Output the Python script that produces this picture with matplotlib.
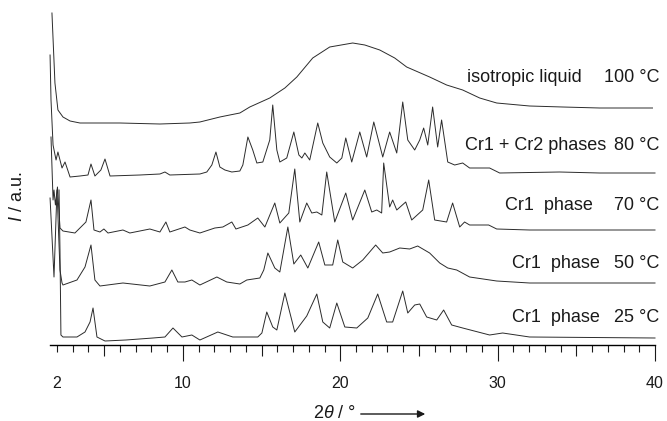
import matplotlib
matplotlib.use("Agg")
import matplotlib.pyplot as plt
from matplotlib.ticker import FixedLocator

plt.rcParams['font.family'] = ['Liberation Sans', 'DejaVu Sans']
plt.rcParams['mathtext.fontset'] = 'custom'
plt.rcParams['mathtext.rm'] = 'Liberation Sans'
plt.rcParams['mathtext.it'] = 'Liberation Sans:italic'

# 2theta (deg) and intensity (a.u., relative to each trace's own baseline)
tt_100 = [1.68, 1.87, 2.06, 2.38, 2.83, 3.46, 6.00, 8.54, 10.44, 11.08, 12.35, 12.98, 13.62, 14.25,
          15.52, 16.48, 17.24, 18.25, 19.33, 20.79, 21.56, 22.51, 23.46, 24.22, 25.68, 26.76, 27.78,
          28.86, 29.94, 32.03, 34.13, 36.48, 39.84]
i_100 = [110, 40, 13, 6, 2, 0, 0, -1, 0, 1, 6, 8, 10, 16,
         25, 35, 46, 65, 76, 80, 78, 73, 65, 56, 46, 38, 33,
         25, 20, 17, 16, 15, 15]

tt_80 = [1.56, 1.62, 1.75, 1.94, 2.06, 2.32, 2.51, 2.83, 3.46, 3.97, 4.16, 4.41, 4.79, 5.05, 5.37,
         7.27, 8.54, 8.86, 9.17, 11.08, 11.52, 11.84, 12.10, 12.35, 12.67, 13.11, 13.62, 13.81, 14.13,
         14.44, 14.70, 15.08, 15.52, 15.71, 15.97, 16.16, 16.60, 17.05, 17.37, 17.56, 17.75, 18.06,
         18.57, 18.89, 19.33, 19.78, 20.10, 20.35, 20.73, 21.24, 21.68, 22.13, 22.70, 23.14, 23.59,
         23.97, 24.29, 24.73, 25.05, 25.30, 25.56, 25.87, 26.19, 26.44, 26.83, 27.27, 27.78, 28.22,
         29.49, 30.13, 33.94, 36.48, 40.0]
i_80 = [121, 76, 31, 16, 24, 8, 14, -1, 0, 1, 12, 0, 6, 17, 0,
        1, 2, 4, 1, 2, 4, 11, 24, 9, 6, 4, 5, 11, 39,
        26, 13, 14, 36, 71, 26, 14, 18, 44, 21, 18, 23, 16,
        53, 33, 19, 13, 18, 38, 14, 44, 19, 54, 19, 44, 23,
        74, 36, 26, 36, 48, 31, 69, 29, 56, 14, 11, 13, 8,
        8, 3, 4, 3, 3]

tt_70 = [1.62, 1.75, 1.81, 1.90, 2.03, 2.19, 2.38, 3.14, 3.84, 4.16, 4.35, 4.73, 4.98, 5.24, 6.19,
         6.63, 7.90, 8.54, 8.92, 9.17, 10.13, 10.44, 11.08, 12.03, 12.54, 13.11, 13.37, 14.13, 14.76,
         15.21, 15.84, 16.16, 16.73, 17.11, 17.43, 17.87, 18.19, 18.51, 18.83, 19.14, 19.65, 20.35,
         20.79, 21.56, 22.00, 22.32, 22.63, 22.76, 23.14, 23.33, 23.59, 24.16, 24.54, 25.24, 25.62,
         26.00, 26.76, 27.14, 27.59, 27.90, 28.22, 28.86, 29.43, 29.94, 32.03, 36.48, 40.0]
i_70 = [96, 33, 43, 28, 46, 5, 2, 0, 11, 33, 3, 1, 4, 0, 3,
        0, 4, 1, 11, 1, 6, 3, 0, 5, 6, 11, 4, 8, 15,
        6, 30, 10, 20, 64, 11, 30, 20, 21, 18, 61, 11, 40,
        13, 43, 21, 23, 20, 70, 26, 33, 23, 31, 13, 23, 53,
        13, 11, 30, 6, 11, 8, 8, 8, 4, 3, 3, 3]

tt_50 = [1.56, 1.81, 2.00, 2.19, 2.32, 2.38, 3.27, 3.78, 4.16, 4.41, 4.73, 6.19, 7.90, 8.86, 9.30,
         9.68, 10.13, 10.57, 11.08, 12.16, 12.79, 13.62, 14.06, 14.89, 15.14, 15.40, 15.84, 16.16,
         16.67, 17.05, 17.49, 17.94, 18.63, 19.02, 19.52, 19.84, 20.16, 20.79, 21.43, 22.25, 22.70,
         23.14, 23.78, 24.41, 24.92, 25.68, 26.32, 26.83, 27.40, 28.22, 29.94, 32.03, 40.0]
i_50 = [88, 9, 96, 16, 3, 1, 6, 19, 41, 6, 0, 3, 0, 4, 16,
        4, 4, 6, 1, 9, 4, 2, 6, 8, 16, 33, 18, 14,
        59, 22, 31, 18, 44, 21, 21, 46, 24, 18, 26, 41, 33,
        34, 38, 37, 40, 33, 23, 18, 16, 9, 5, 3, 3]

tt_25 = [2.13, 2.19, 2.25, 2.38, 3.27, 3.78, 4.10, 4.29, 4.54, 5.05, 6.38, 8.10, 8.86, 9.37, 9.94,
         10.57, 11.08, 12.22, 13.17, 14.76, 15.02, 15.33, 15.71, 15.97, 16.48, 17.11, 17.87, 18.51,
         18.89, 19.33, 19.78, 20.29, 21.05, 21.75, 22.38, 22.95, 23.33, 23.97, 24.29, 24.73, 25.05,
         25.49, 26.13, 26.57, 27.08, 27.78, 29.49, 30.32, 32.03, 40.0]
i_25 = [152, 92, 7, 5, 5, 10, 20, 34, 5, 1, 2, 4, 5, 14, 5,
        7, 2, 10, 5, 5, 9, 30, 15, 12, 49, 10, 26, 48,
        20, 14, 39, 15, 14, 24, 48, 20, 20, 51, 29, 37, 38,
        25, 22, 32, 17, 14, 7, 9, 5, 4]

phases = ["isotropic liquid", "Cr1 + Cr2 phases", "Cr1  phase", "Cr1  phase", "Cr1  phase"]
temps = ["100 °C", "80 °C", "70 °C", "50 °C", "25 °C"]
traces = [(tt_100, i_100), (tt_80, i_80), (tt_70, i_70), (tt_50, i_50), (tt_25, i_25)]

# vertical stacking of the traces and label placement
offsets = [222, 169, 112, 59, 3]
label_y = [267, 200, 139, 82, 28]
phase_x = [35.33, 36.92, 36.03, 36.48, 36.48]

fig = plt.figure(figsize=(6.67, 4.21), dpi=100)
ax = fig.add_axes([50 / 667, 76 / 421, 605 / 667, 345 / 421])

for (tt, inten), off in zip(traces, offsets):
    ax.plot(tt, [v + off for v in inten], color='#2b2b2b', lw=0.7, clip_on=False)

for name, temp, y, xn in zip(phases, temps, label_y, phase_x):
    ax.text(xn, y, name, ha='right', va='center', fontsize=13, color='#1a1a1a')
    ax.text(40.3, y, temp, ha='right', va='center', fontsize=13, color='#1a1a1a', clip_on=False)

ax.set_xlim(1.556, 40)
ax.set_ylim(0, 345)
for side in ['left', 'top', 'right']:
    ax.spines[side].set_visible(False)
ax.spines['bottom'].set_linewidth(1.0)
ax.set_yticks([])

ax.set_xticks([2, 10, 20, 30, 40])
ax.set_xticklabels(['2', '10', '20', '30', '40'])
ax.xaxis.set_minor_locator(FixedLocator([v for v in range(3, 40) if v % 10 != 0]))
ax.tick_params(axis='x', which='major', direction='out', length=11.5, width=0.8,
               pad=11, labelsize=11.5, colors='#1a1a1a')
ax.tick_params(axis='x', which='minor', direction='out', length=5, width=0.8, color='#1a1a1a')

# tick at 2 is a short one, ticks at 5, 15, 25, 35 are medium
ax.xaxis.get_major_ticks()[0].tick1line.set_markersize(5)
for t, loc in zip(ax.xaxis.get_minor_ticks(), ax.xaxis.get_minorticklocs()):
    if loc % 5 == 0:
        t.tick1line.set_markersize(8)

fig.text(335 / 667, 1 - 413 / 421, r'2$\mathit{\theta}$ / °', ha='center', va='center',
         fontsize=13, color='#1a1a1a')
fig.patches.append(matplotlib.patches.FancyArrowPatch(
    (358 / 667, 1 - 414 / 421), (428 / 667, 1 - 414 / 421), transform=fig.transFigure,
    arrowstyle='-|>', mutation_scale=11, lw=1.0, color='#1a1a1a'))
fig.text(18 / 667, 1 - 197 / 421, r'$\mathit{I}$ / a.u.', rotation=90, ha='center', va='center',
         fontsize=13, color='#1a1a1a')

fig.savefig('out.png', dpi=100)
